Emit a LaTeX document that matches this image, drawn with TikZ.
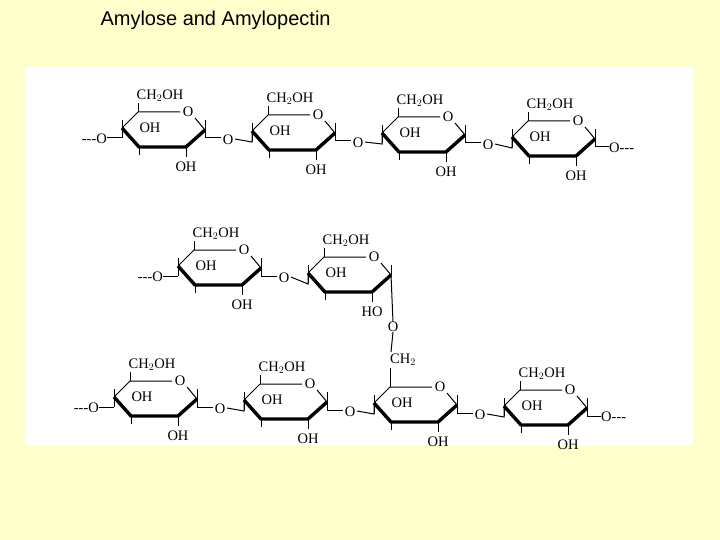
\documentclass[tikz,border=0pt]{standalone}
\usepackage{fontspec}
\setsansfont{Liberation Sans}
\setmainfont{Liberation Serif}
\definecolor{pagebg}{RGB}{255,255,204}
\tikzset{lbl/.style={font=\fontsize{14.5}{14.5}\selectfont,inner sep=0pt},
 bond/.style={line width=1pt},
 bold/.style={line width=3.4pt,line join=round}}
\newcommand{\sugar}[4]{%
\begin{scope}[shift={(#1,#2)}]
 \draw[bond] (0,0)--(16,-16)--(58,-16);
 \draw[bond] (73,-10)--(83,2);
 \draw[bold] (0,0)--(17,19)--(64,19)--(83,2);
 \draw[bond] (0,-8)--(0,10); \draw[bond] (83,-8)--(83,2);
 \draw[bond] (17,19)--(17,27); \draw[bond] (64,19)--(64,29);
 \draw[bond] (16,-16)--(16,-25);
 \node[lbl] at (66,-16) {O};
 \node[lbl] at (28,0) {OH};
 \node[lbl] at (64,39) {#3};
 \node[lbl] at (38,-32) {#4};
\end{scope}}
\newcommand{\link}[3]{%
\begin{scope}[shift={(#1,#2)}]
 \draw[bond] (83,2)--(83,10)--(99,10);
 \node[lbl] (o) at (106,12) {O};
 \draw[bond] (113,11)--(130,11+#3)--(130,#3);
\end{scope}}
\newcommand{\leftend}[2]{%
\begin{scope}[shift={(#1,#2)}]
 \node[lbl,anchor=east] at (-15,11) {-{}-{}-O};
 \draw[bond] (-15,10)--(0,10);
\end{scope}}
\newcommand{\rightend}[2]{%
\begin{scope}[shift={(#1,#2)}]
 \draw[bond] (83,2)--(83,10)--(97,10);
 \node[lbl,anchor=west] at (97,11) {O-{}-{}-};
\end{scope}}
\begin{document}
\begin{tikzpicture}[x=1pt,y=-1pt]
\fill[pagebg] (0,0) rectangle (720,540);
\fill[white] (25,67) rectangle (693,446);
\node[font=\sffamily\fontsize{20}{20}\selectfont,anchor=west] (title) at (97,20) {Amylose and Amylopectin};
% row 1
\leftend{122}{128}
\sugar{122}{128}{OH}{CH$_2$OH}\link{122}{128}{3}
\sugar{252}{131}{OH}{CH$_2$OH}\link{252}{131}{2}
\sugar{382}{133}{OH}{CH$_2$OH}\link{382}{133}{4}
\sugar{512}{137}{OH}{CH$_2$OH}\rightend{512}{137}
% row 2
\leftend{178}{266}
\sugar{178}{266}{OH}{CH$_2$OH}\link{178}{266}{7}
\sugar{308}{273}{HO}{CH$_2$OH}
% row 3
\leftend{114}{397}
\sugar{114}{397}{OH}{CH$_2$OH}\link{114}{397}{3}
\sugar{244}{400}{OH}{CH$_2$OH}\link{244}{400}{3}
\sugar{374}{403}{OH}{}\link{374}{403}{3}
\sugar{504}{406}{OH}{CH$_2$OH}\rightend{504}{406}
% 1-6 branch
\node[lbl] (bo) at (393,327) {O};
\node[lbl] (ch2) at (403,360) {CH$_2$};
\draw[bond] (391,275)--(bo.north);
\draw[bond] (bo.south)--(391,352);
\draw[bond] (390,368)--(390,387);
\end{tikzpicture}
\end{document}
